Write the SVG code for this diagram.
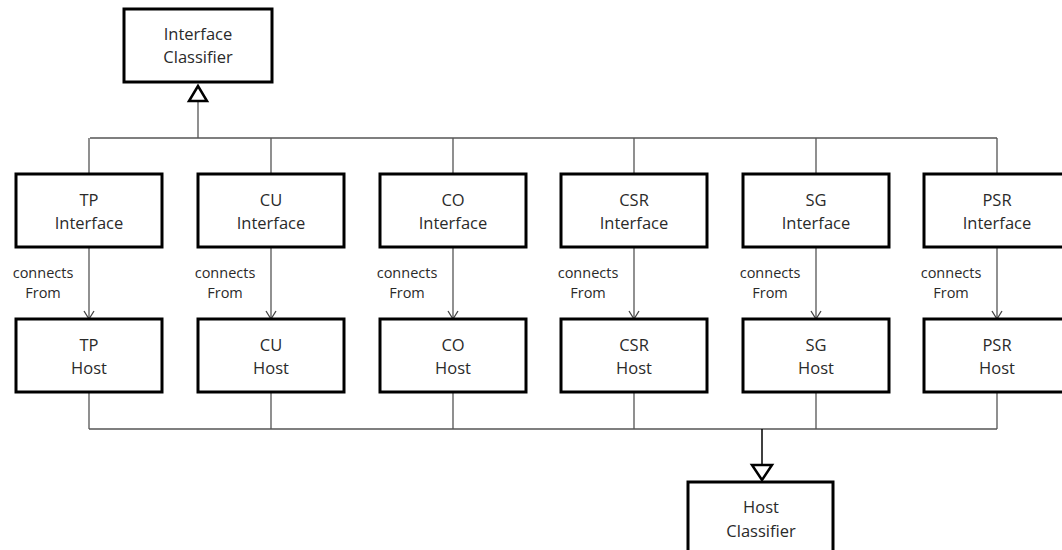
<svg xmlns="http://www.w3.org/2000/svg" width="1062" height="550" viewBox="0 0 1062 550">
  <style>
    .box { fill: #fff; stroke: #000; stroke-width: 3; }
    .lbl { font-family: "Open Sans", "Liberation Sans", sans-serif; font-size: 16.5px; fill: #2a2a2a; text-anchor: middle; }
    .note { font-family: "Open Sans", "Liberation Sans", sans-serif; font-size: 14.5px; fill: #2a2a2a; text-anchor: middle; }
    .wire { fill: none; stroke: #555; stroke-width: 1.3; }
    .gen { fill: #fff; stroke: #000; stroke-width: 2.5; }
  </style>
  <defs>
    <marker id="open" markerWidth="12" markerHeight="12" refX="6" refY="10" orient="0" markerUnits="userSpaceOnUse">
      <path d="M1,2 L6,10 L11,2" fill="none" stroke="#444" stroke-width="1.3"/>
    </marker>
  </defs>
  <rect width="1062" height="550" fill="#fff"/>

  <!-- connectors -->
  <g id="connectors">
    <!-- generalisation towards Interface Classifier -->
    <path class="wire" d="M90,138 H997 M198,138 V101"/>
    <path class="wire" d="M89,138 V174 M271,138 V174 M453,138 V174 M634,138 V174 M816,138 V174 M997,138 V174"/>
    <polygon class="gen" points="198,86 189,101 207,101"/>
    <!-- connectsFrom associations -->
    <path class="wire" marker-end="url(#open)" d="M89,247 V319"/>
    <path class="wire" marker-end="url(#open)" d="M271,247 V319"/>
    <path class="wire" marker-end="url(#open)" d="M453,247 V319"/>
    <path class="wire" marker-end="url(#open)" d="M634,247 V319"/>
    <path class="wire" marker-end="url(#open)" d="M816,247 V319"/>
    <path class="wire" marker-end="url(#open)" d="M997,247 V319"/>
    <text class="note" x="43" y="278">connects</text><text class="note" x="43" y="298">From</text>
    <text class="note" x="225" y="278">connects</text><text class="note" x="225" y="298">From</text>
    <text class="note" x="407" y="278">connects</text><text class="note" x="407" y="298">From</text>
    <text class="note" x="588" y="278">connects</text><text class="note" x="588" y="298">From</text>
    <text class="note" x="770" y="278">connects</text><text class="note" x="770" y="298">From</text>
    <text class="note" x="951" y="278">connects</text><text class="note" x="951" y="298">From</text>
    <!-- generalisation towards Host Classifier -->
    <path class="wire" d="M89,392 V429 M271,392 V429 M453,392 V429 M634,392 V429 M816,392 V429 M997,392 V429 M89,429 H997"/>
    <path d="M762,429 V465" stroke="#000" stroke-width="1.5"/>
    <polygon class="gen" points="752,465 772,465 762,480"/>
  </g>

  <g id="interface-classifier">
    <rect class="box" x="124" y="9" width="148" height="73"/>
    <text class="lbl" x="198" y="40">Interface</text>
    <text class="lbl" x="198" y="63">Classifier</text>
  </g>

  <g id="tp-interface"><rect class="box" x="16" y="174" width="146" height="73"/><text class="lbl" x="89" y="206">TP</text><text class="lbl" x="89" y="229">Interface</text></g>
  <g id="cu-interface"><rect class="box" x="198" y="174" width="146" height="73"/><text class="lbl" x="271" y="206">CU</text><text class="lbl" x="271" y="229">Interface</text></g>
  <g id="co-interface"><rect class="box" x="380" y="174" width="146" height="73"/><text class="lbl" x="453" y="206">CO</text><text class="lbl" x="453" y="229">Interface</text></g>
  <g id="csr-interface"><rect class="box" x="561" y="174" width="146" height="73"/><text class="lbl" x="634" y="206">CSR</text><text class="lbl" x="634" y="229">Interface</text></g>
  <g id="sg-interface"><rect class="box" x="743" y="174" width="146" height="73"/><text class="lbl" x="816" y="206">SG</text><text class="lbl" x="816" y="229">Interface</text></g>
  <g id="psr-interface"><rect class="box" x="924" y="174" width="146" height="73"/><text class="lbl" x="997" y="206">PSR</text><text class="lbl" x="997" y="229">Interface</text></g>

  <g id="tp-host"><rect class="box" x="16" y="319" width="146" height="73"/><text class="lbl" x="89" y="351">TP</text><text class="lbl" x="89" y="374">Host</text></g>
  <g id="cu-host"><rect class="box" x="198" y="319" width="146" height="73"/><text class="lbl" x="271" y="351">CU</text><text class="lbl" x="271" y="374">Host</text></g>
  <g id="co-host"><rect class="box" x="380" y="319" width="146" height="73"/><text class="lbl" x="453" y="351">CO</text><text class="lbl" x="453" y="374">Host</text></g>
  <g id="csr-host"><rect class="box" x="561" y="319" width="146" height="73"/><text class="lbl" x="634" y="351">CSR</text><text class="lbl" x="634" y="374">Host</text></g>
  <g id="sg-host"><rect class="box" x="743" y="319" width="146" height="73"/><text class="lbl" x="816" y="351">SG</text><text class="lbl" x="816" y="374">Host</text></g>
  <g id="psr-host"><rect class="box" x="924" y="319" width="146" height="73"/><text class="lbl" x="997" y="351">PSR</text><text class="lbl" x="997" y="374">Host</text></g>

  <g id="host-classifier">
    <rect class="box" x="688" y="482" width="145" height="80"/>
    <text class="lbl" x="761" y="513">Host</text>
    <text class="lbl" x="761" y="537">Classifier</text>
  </g>
</svg>
